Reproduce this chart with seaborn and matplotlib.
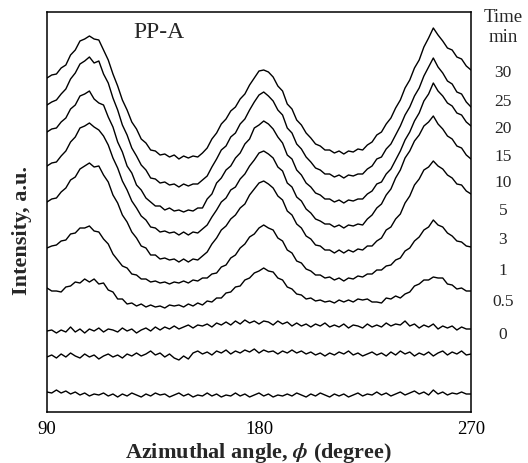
import numpy as np
import pandas as pd
import matplotlib
matplotlib.use("Agg")
import matplotlib.pyplot as plt
import seaborn as sns

# azimuthal angle grid (degree), one point every 2 degrees
angles = list(range(90, 271, 2))

# stacked intensity profiles (a.u., already offset as in the figure)
i_0 = [20, 19, 22, 19, 21, 18, 20, 17, 19, 16,
       18, 17, 19, 16, 18, 15, 18, 16, 19, 17,
       15, 18, 16, 19, 17, 18, 15, 17, 19, 16,
       18, 15, 17, 16, 19, 16, 18, 15, 17, 16,
       19, 16, 18, 15, 17, 19, 16, 18, 15, 17,
       16, 18, 16, 19, 17, 15, 18, 16, 19, 17,
       15, 18, 16, 18, 15, 17, 19, 16, 18, 17,
       20, 17, 19, 16, 18, 20, 17, 19, 21, 18,
       20, 17, 22, 18, 20, 17, 19, 18, 20, 18,
       18]
i_05 = [55, 57, 54, 58, 55, 59, 56, 54, 58, 55,
        57, 53, 56, 58, 55, 57, 54, 58, 56, 59,
        56, 58, 61, 57, 59, 55, 58, 54, 52, 56,
        53, 59, 61, 58, 60, 57, 61, 59, 62, 58,
        61, 59, 62, 60, 63, 59, 62, 60, 61, 58,
        61, 59, 62, 59, 61, 58, 60, 57, 59, 56,
        59, 57, 60, 58, 61, 57, 59, 56, 58, 60,
        57, 59, 56, 60, 57, 61, 58, 60, 56, 59,
        57, 60, 56, 59, 61, 57, 60, 58, 61, 57,
        58]
i_1 = [81, 82, 79, 82, 80, 85, 80, 83, 79, 83,
       81, 84, 80, 83, 82, 80, 84, 81, 83, 79,
       82, 84, 81, 85, 82, 85, 83, 86, 83, 85,
       87, 84, 87, 86, 88, 85, 89, 87, 90, 87,
       91, 88, 92, 89, 91, 88, 91, 90, 87, 91,
       88, 90, 86, 89, 86, 88, 85, 88, 86, 89,
       85, 87, 85, 88, 84, 87, 86, 84, 88, 85,
       87, 85, 89, 86, 88, 87, 91, 86, 88, 84,
       87, 85, 88, 83, 86, 84, 86, 82, 85, 83,
       83]
i_3 = [124, 121, 121, 120, 125, 126, 130, 129, 133, 130,
       133, 128, 129, 122, 120, 113, 113, 108, 109, 106,
       108, 105, 107, 105, 106, 104, 107, 106, 107, 105,
       108, 106, 109, 107, 111, 110, 114, 114, 119, 120,
       125, 126, 132, 134, 139, 141, 144, 141, 140, 134,
       132, 125, 123, 118, 117, 113, 114, 111, 112, 110,
       111, 109, 112, 110, 112, 110, 113, 112, 113, 110,
       110, 109, 114, 113, 116, 114, 118, 120, 126, 128,
       132, 132, 135, 134, 134, 128, 127, 123, 124, 121,
       121]
i_5 = [164, 166, 167, 171, 172, 178, 179, 184, 184, 186,
       181, 180, 173, 168, 158, 152, 146, 144, 138, 137,
       133, 133, 130, 131, 129, 130, 128, 130, 129, 131,
       129, 132, 131, 134, 134, 138, 139, 145, 147, 154,
       157, 164, 168, 175, 178, 184, 187, 184, 182, 174,
       171, 162, 159, 151, 149, 143, 141, 137, 137, 134,
       135, 132, 134, 131, 134, 133, 136, 135, 138, 138,
       142, 142, 146, 147, 152, 154, 161, 164, 171, 175,
       182, 185, 192, 187, 185, 179, 176, 171, 170, 166,
       165]
i_10 = [210, 213, 214, 220, 224, 232, 235, 243, 246, 249,
        245, 246, 237, 230, 217, 209, 197, 190, 180, 174,
        166, 164, 157, 157, 153, 154, 152, 153, 150, 153,
        150, 153, 152, 156, 160, 168, 174, 182, 186, 193,
        197, 204, 208, 217, 223, 229, 231, 228, 224, 216,
        212, 201, 197, 188, 184, 176, 173, 167, 166, 162,
        162, 159, 162, 159, 162, 160, 163, 162, 166, 166,
        171, 174, 182, 185, 193, 198, 209, 216, 227, 233,
        242, 245, 251, 246, 243, 237, 234, 228, 227, 221,
        218]
i_15 = [246, 249, 250, 256, 261, 270, 275, 284, 286, 289,
        285, 282, 276, 267, 254, 244, 231, 222, 211, 204,
        196, 192, 185, 184, 180, 181, 179, 180, 177, 180,
        177, 180, 179, 183, 187, 195, 202, 210, 214, 222,
        225, 233, 238, 246, 252, 259, 261, 258, 254, 245,
        241, 229, 225, 215, 211, 203, 199, 193, 191, 188,
        188, 185, 187, 184, 187, 186, 188, 187, 193, 197,
        204, 208, 217, 223, 234, 242, 254, 261, 271, 277,
        286, 290, 296, 288, 283, 276, 273, 266, 264, 257,
        253]
i_20 = [280, 283, 284, 290, 294, 303, 307, 316, 318, 321,
        313, 309, 307, 295, 285, 270, 260, 246, 239, 227,
        222, 214, 210, 206, 206, 202, 204, 201, 202, 200,
        202, 201, 204, 204, 213, 218, 229, 234, 242, 246,
        254, 259, 268, 273, 284, 287, 291, 288, 283, 275,
        269, 257, 253, 242, 237, 229, 225, 219, 217, 213,
        213, 210, 212, 209, 212, 211, 213, 213, 218, 221,
        228, 230, 238, 243, 252, 261, 272, 280, 291, 299,
        311, 318, 329, 321, 316, 309, 306, 299, 297, 290,
        286]
i_25 = [307, 310, 312, 318, 323, 333, 339, 348, 351, 355,
        349, 351, 338, 329, 314, 302, 287, 277, 264, 256,
        247, 242, 234, 233, 229, 230, 227, 228, 225, 228,
        226, 228, 228, 232, 236, 245, 253, 262, 266, 275,
        279, 288, 293, 302, 310, 317, 320, 316, 311, 302,
        297, 284, 279, 268, 263, 255, 250, 244, 242, 238,
        238, 235, 237, 234, 237, 236, 238, 238, 243, 246,
        253, 255, 263, 268, 277, 286, 297, 305, 316, 324,
        336, 345, 354, 345, 339, 331, 328, 320, 318, 310,
        305]
i_30 = [334, 337, 338, 344, 347, 357, 362, 371, 373, 376,
        373, 372, 362, 352, 338, 326, 312, 302, 290, 283,
        273, 269, 262, 261, 257, 258, 255, 257, 253, 256,
        254, 256, 255, 259, 264, 273, 279, 288, 293, 301,
        305, 313, 318, 327, 334, 341, 342, 340, 335, 326,
        321, 308, 303, 292, 287, 279, 274, 268, 266, 262,
        262, 259, 261, 258, 261, 260, 263, 262, 267, 270,
        277, 280, 288, 294, 304, 312, 324, 332, 344, 352,
        365, 374, 384, 377, 371, 364, 362, 355, 353, 346,
        342]

times = ["0", "0.5", "1", "3", "5", "10", "15", "20", "25", "30"]
profiles = [i_0, i_05, i_1, i_3, i_5, i_10, i_15, i_20, i_25, i_30]

# heights of the time labels on the right (same a.u. scale)
label_pos = [78, 111, 142, 173, 202, 230, 256, 284, 311, 340]

df = pd.concat(
    [pd.DataFrame({"angle": angles, "intensity": p, "time": t}) for t, p in zip(times, profiles)],
    ignore_index=True,
)

sns.set_theme(style="white")
plt.rcParams["font.family"] = ["Liberation Serif", "DejaVu Serif"]
plt.rcParams["mathtext.fontset"] = "stix"

fig = plt.figure(figsize=(5.28, 4.64), dpi=100)
ax = fig.add_axes([47 / 528, 51 / 464, 424 / 528, 400 / 464])

sns.lineplot(data=df, x="angle", y="intensity", units="time", estimator=None,
             color="black", lw=1.0, ax=ax)

ax.set_xlim(90, 270)
ax.set_ylim(0, 400)
ax.set_xticks([90, 180, 270])
ax.set_yticks([])
ax.tick_params(axis="x", direction="in", length=5, width=1.0, labelsize=13.5,
               pad=6, colors="black")
for s in ax.spines.values():
    s.set_color("black")
    s.set_linewidth(1.1)

ax.set_xlabel(r"Azimuthal angle, $\boldsymbol{\phi}$ (degree)", fontsize=16, fontweight="bold")
ax.xaxis.label.set_va("center")
ax.xaxis.set_label_coords(0.5, -0.1)
ax.set_ylabel("Intensity, a.u.", fontsize=16, fontweight="bold")
ax.yaxis.label.set_va("center")
ax.yaxis.set_label_coords(-0.059, 0.457)

ax.text(137.5, 380, "PP-A", fontsize=17, ha="center", va="center")

ax.text(283.5, 396, "Time", fontsize=13.5, ha="center", va="center", clip_on=False)
ax.text(283.5, 376, "min", fontsize=13.5, ha="center", va="center", clip_on=False)
for t, y in zip(times, label_pos):
    ax.text(283.5, y, t, fontsize=12.5, ha="center", va="center", clip_on=False)

fig.savefig("out.png", dpi=100)
